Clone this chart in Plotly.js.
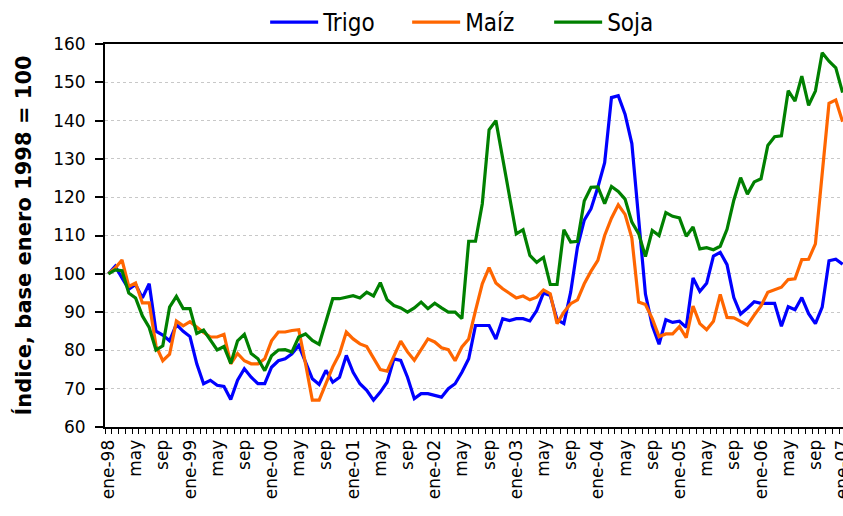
<!DOCTYPE html>
<html>
<head>
<meta charset="utf-8">
<script src="https://cdn.plot.ly/plotly-3.0.1.min.js"></script>
<style>
  html, body { margin: 0; padding: 0; background: #fff; overflow: hidden; }
  #chart { width: 843px; height: 516px; }
</style>
</head>
<body>
<div id="chart"></div>
<script>
// Monthly index values, ene-98 onwards (base enero 1998 = 100)
const trigo = [100, 102, 98.9, 96, 97.2, 93.7, 97.4, 85, 84, 82.5, 86.8, 85,
  83.6, 76.5, 71.3, 72.2, 70.9, 70.6, 67.2, 72.2, 75.2, 73, 71.3, 71.3,
  75.6, 77.3, 77.8, 79.1, 81.3, 77, 72.6, 71.1, 74.8, 71.7, 73, 78.7,
  74.3, 71.3, 69.6, 67, 69.1, 71.7, 77.8, 77.4, 73, 67.4, 68.7, 68.7,
  68.3, 67.8, 70, 71.3, 74.3, 77.8, 86.5, 86.5, 86.5, 83, 88.3, 87.8,
  88.3, 88.3, 87.7, 90.4, 95, 94.3, 88, 87, 95.2, 107, 114, 117,
  122.6, 129, 146, 146.5, 141.7, 134, 114, 94.7, 86.5, 81.6, 88, 87.3,
  87.6, 86, 98.9, 95.4, 97.5, 104.6, 105.6, 102.4, 93.8, 89.5, 91, 92.7,
  92.3, 92.3, 92.3, 86.3, 91.4, 90.6, 93.8, 89.6, 87, 91.3, 103.4, 103.8,
  102.5];
const maiz = [100, 101.5, 103.6, 96.7, 97.6, 92.4, 92.4, 81.2, 77.3, 79, 87.7, 86.4,
  87.5, 86, 84.7, 83.5, 83.5, 84.2, 76.5, 79.2, 77.3, 76.5, 76.5, 77.8,
  82.5, 84.8, 84.8, 85.2, 85.4, 76.5, 67, 67, 71.3, 75.7, 79.1, 84.8,
  83, 81.7, 81, 77.8, 75, 74.6, 78.7, 82.4, 79.6, 77.4, 80.2, 83,
  82.2, 80.7, 80.2, 77.3, 80.9, 83, 90.4, 97.4, 101.6, 97.6, 96.1, 94.8,
  93.7, 94.2, 93.2, 93.9, 95.8, 94.8, 87, 90, 92.2, 93.2, 97.4, 100.7,
  103.5, 110, 114.5, 118, 115.5, 109.3, 92.6, 92, 88.3, 83.6, 84.3, 84.3,
  86.2, 83.3, 91.6, 87, 85.4, 87.6, 94.6, 88.6, 88.5, 87.6, 86.6, 89.2,
  91.6, 95.2, 95.8, 96.5, 98.5, 98.7, 103.7, 103.8, 107.8, 126.5, 144.5, 145.4,
  139.7];
const soja = [100, 101, 100.8, 95, 93.7, 89, 86, 80.1, 81.2, 91.3, 94.1, 90.9,
  90.9, 84.4, 85.3, 82.7, 80.1, 81, 76.6, 82.5, 84.2, 79.2, 77.8, 74.7,
  78.6, 80.1, 80.2, 79.6, 83.5, 84.3, 82.6, 81.6, 87.8, 93.5, 93.5, 93.9,
  94.3, 93.7, 95.2, 94.2, 97.7, 93.2, 91.7, 91.1, 90, 91.1, 92.6, 90.9,
  92.3, 91.1, 90, 90, 88.3, 108.5, 108.5, 118.3, 137.6, 140, 130, 120,
  110.4, 111.5, 104.8, 103, 104.3, 97.2, 97.2, 111.5, 108.3, 108.5, 119, 122.6,
  122.7, 118.3, 122.8, 121.5, 119.5, 113.5, 110.5, 104.5, 111.3, 110, 116, 115,
  114.6, 109.8, 112.2, 106.5, 106.8, 106.3, 107.2, 111.6, 119.2, 125.1, 120.8, 124,
  124.8, 133.5, 135.8, 136, 147.8, 145.1, 151.6, 144, 147.7, 157.7, 155.5, 153.8,
  147.3];

const seriesNames = ["Trigo", "Maíz", "Soja"];
const seriesColors = ["#0000FF", "#FF6600", "#008000"];

// Tick labels, one every four months starting at ene-98
const tickLabels = ["ene-98", "may", "sep", "ene-99", "may", "sep", "ene-00", "may", "sep",
  "ene-01", "may", "sep", "ene-02", "may", "sep", "ene-03", "may", "sep",
  "ene-04", "may", "sep", "ene-05", "may", "sep", "ene-06", "may", "sep", "ene-07"];
const tickStep = 4;

const monthIndex = trigo.map((_, i) => i);
const tickVals = tickLabels.map((_, i) => i * tickStep);

const data = [trigo, maiz, soja].map((vals, s) => ({
  x: monthIndex,
  y: vals,
  type: "scatter",
  mode: "lines",
  name: seriesNames[s],
  line: { color: seriesColors[s], width: 3.2 },
  hoverinfo: "skip"
}));

const layout = {
  width: 843,
  height: 516,
  margin: { l: 105, r: 0, t: 43, b: 89 },
  paper_bgcolor: "#ffffff",
  plot_bgcolor: "#ffffff",
  font: { family: "DejaVu Sans, Verdana, sans-serif", color: "#000000", size: 17 },
  showlegend: true,
  legend: {
    orientation: "h",
    x: 0.217, xanchor: "left",
    y: 1.055, yanchor: "middle",
    font: { family: "DejaVu Sans Condensed, DejaVu Sans, sans-serif", size: 24, color: "#000" },
    bgcolor: "rgba(0,0,0,0)",
    itemwidth: 48,
    entrywidth: 79,
    entrywidthmode: "pixels"
  },
  xaxis: {
    type: "linear",
    range: [-0.5, 108.06],
    automargin: false,
    tickmode: "array",
    tickvals: tickVals,
    ticktext: tickLabels,
    tickangle: -90,
    ticks: "",
    tickfont: { size: 17, family: "DejaVu Sans, Verdana, sans-serif" },
    ticklabeloverflow: "allow",
    showgrid: false,
    zeroline: false,
    showline: true,
    linecolor: "#000000",
    linewidth: 2,
    mirror: true,
    ticklabelstandoff: 4,
    minor: { dtick: 1, tick0: 0.5, ticks: "outside", ticklen: 5, tickwidth: 1, tickcolor: "#000", showgrid: false }
  },
  yaxis: {
    range: [60, 160],
    dtick: 10,
    tick0: 60,
    automargin: false,
    ticks: "outside",
    ticklen: 8,
    tickwidth: 2,
    tickcolor: "#000000",
    tickfont: { size: 17 },
    ticklabelstandoff: 6,
    showgrid: true,
    gridcolor: "#c8c8c8",
    griddash: "dot",
    gridwidth: 1,
    zeroline: false,
    showline: true,
    linecolor: "#000000",
    linewidth: 2,
    title: {
      text: "Índice, base enero 1998 = 100",
      font: { size: 21, family: "DejaVu Sans, Verdana, sans-serif", weight: "bold" },
      standoff: 16
    }
  }
};

Plotly.newPlot("chart", data, layout, { displayModeBar: false, staticPlot: true });
</script>
</body>
</html>
